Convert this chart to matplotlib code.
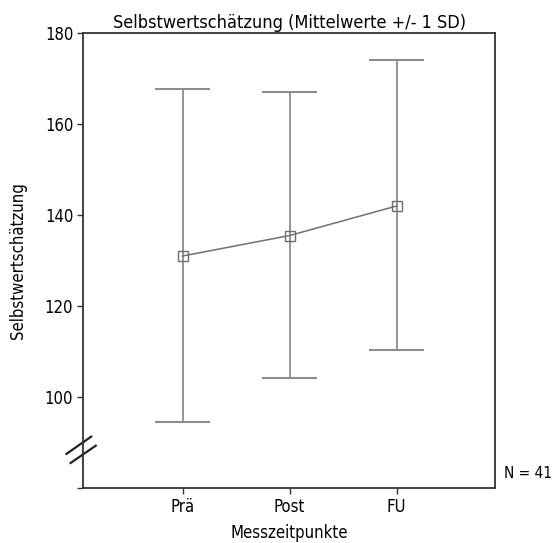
import matplotlib
matplotlib.use("Agg")
import matplotlib.pyplot as plt
from matplotlib import font_manager
import matplotlib.transforms as mtrans

# Data
categories = ["Prä", "Post", "FU"]
means = [131.0, 135.5, 142.0]
upper = [167.7, 167.0, 174.0]
lower = [94.5, 104.1, 110.4]
yticks = [80, 100, 120, 140, 160, 180]
yticklabels = ["", "100", "120", "140", "160", "180"]

# choose a regular-weight condensed font if available
chosen = None
for f in font_manager.fontManager.ttflist:
    w = f.weight
    wn = w if isinstance(w, int) else {"normal": 400, "regular": 400, "book": 400}.get(str(w).lower(), 0)
    is_cond = ("condensed" in str(f.stretch).lower()) or ("Condensed" in f.name) or ("Narrow" in f.name)
    if is_cond and wn == 400 and f.style == "normal":
        chosen = f
        break
if chosen is not None:
    plt.rcParams['font.family'] = [chosen.name, "DejaVu Sans"]
    plt.rcParams['font.stretch'] = chosen.stretch
else:
    plt.rcParams['font.family'] = ["DejaVu Sans"]

fig = plt.figure(figsize=(5.55, 5.43), dpi=100)
ax = fig.add_axes([0.1495, 0.1013, 0.7425, 0.8377])

x = list(range(1, len(categories) + 1))
ecol = "#8c8c8c"
for xi, m, lo, hi in zip(x, means, lower, upper):
    ax.vlines(xi, lo, hi, color=ecol, lw=1.3)
    ax.hlines([lo, hi], xi - 0.26, xi + 0.26, color=ecol, lw=1.5)
ax.plot(x, means, color="#707070", lw=1.1, marker="s", ms=6.5,
        mfc="none", mec="#6e6e6e", mew=1.0, zorder=3)

ax.set_xlim(0.07, 3.92)
ax.set_ylim(80, 180)
ax.set_xticks(x)
ax.set_xticklabels(categories, fontsize=12)
ax.set_yticks(yticks)
ax.set_yticklabels(yticklabels, fontsize=12)
ax.tick_params(axis="both", direction="out", length=4, width=1, color="#333333", pad=3)

for s in ax.spines.values():
    s.set_color("#333333")
    s.set_linewidth(1.3)

ax.set_title("Selbstwertschätzung (Mittelwerte +/- 1 SD)", fontsize=13, pad=4)
ax.set_ylabel("Selbstwertschätzung", fontsize=12, labelpad=13)
ax.set_xlabel("Messzeitpunkte", fontsize=12, labelpad=6)

# axis break marks
tr = mtrans.blended_transform_factory(ax.transAxes, ax.transData)
ax.plot([-0.040, 0.020], [87.5, 91.3], color="#222222", lw=1.6, transform=tr, clip_on=False)
ax.plot([-0.030, 0.031], [85.5, 89.3], color="#222222", lw=1.6, transform=tr, clip_on=False)

fig.text(0.909, 1 - 473 / 543, "N = 41", fontsize=11, ha="left", va="center")

fig.savefig("out.png", dpi=100)
